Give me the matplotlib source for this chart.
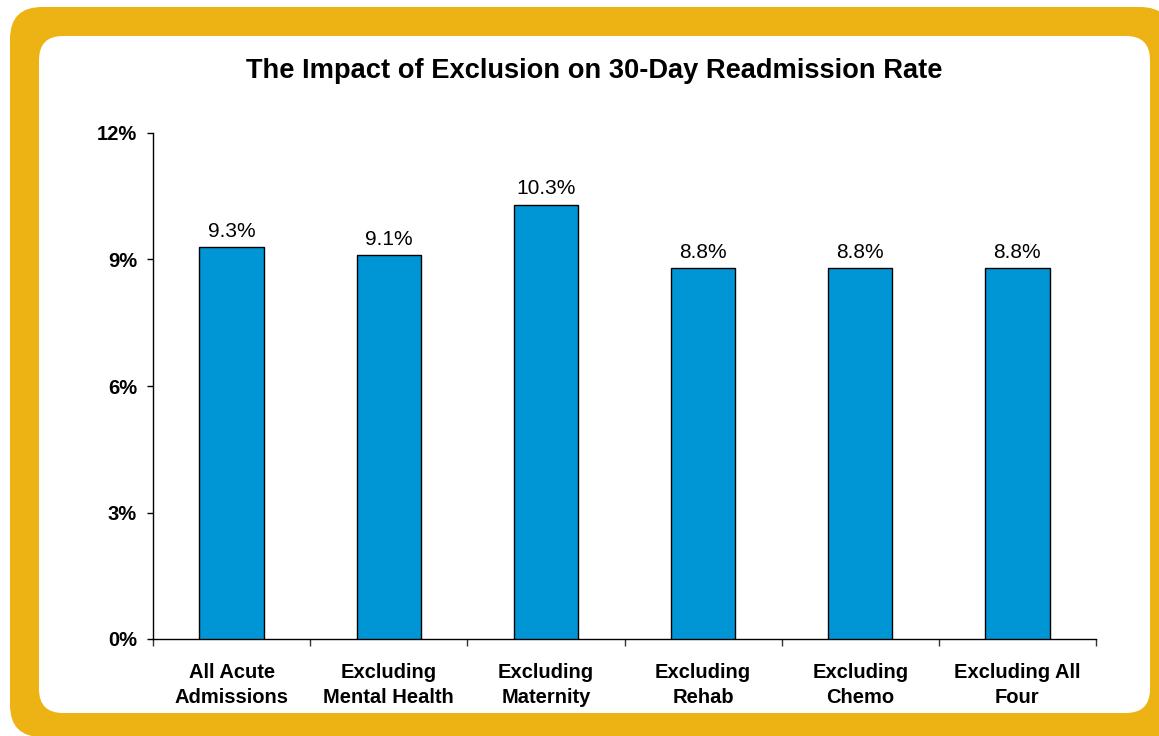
import matplotlib
matplotlib.use("Agg")
import matplotlib.pyplot as plt
from matplotlib.patches import FancyBboxPatch, Rectangle
from matplotlib.ticker import FuncFormatter

categories = ["All Acute\nAdmissions", "Excluding\nMental Health", "Excluding\nMaternity",
              "Excluding\nRehab", "Excluding\nChemo", "Excluding All\nFour"]
rates = [9.3, 9.1, 10.3, 8.8, 8.8, 8.8]
value_labels = ["9.3%", "9.1%", "10.3%", "8.8%", "8.8%", "8.8%"]
y_ticks = [0, 3, 6, 9, 12]

GOLD = "#EDB213"
BLUE = "#0096D6"
W, H = 1159, 736

plt.rcParams["font.family"] = ["Liberation Sans", "DejaVu Sans"]
fig = plt.figure(figsize=(W / 100, H / 100), dpi=100)
fig.patch.set_facecolor("white")


def px_box(x0, y0, x1, y1, radius, color, z, rounded=True):
    # pixel coordinates measured from the top-left corner
    kw = dict(transform=fig.dpi_scale_trans, facecolor=color, edgecolor="none", zorder=z)
    if rounded:
        p = FancyBboxPatch((x0 / 100, (H - y1) / 100), (x1 - x0) / 100, (y1 - y0) / 100,
                           boxstyle=f"round,pad=0,rounding_size={radius / 100}", **kw)
    else:
        p = Rectangle((x0 / 100, (H - y1) / 100), (x1 - x0) / 100, (y1 - y0) / 100, **kw)
    fig.patches.append(p)


# golden frame and white panel
px_box(10, 7, 1172, 737, 32, GOLD, -12)
px_box(600, 650, 1159, 736, 0, GOLD, -12, rounded=False)
px_box(39, 36, 1150, 713, 24, "white", -11)

ax = fig.add_axes([153 / W, 1 - 639 / H, (1096 - 153) / W, (639 - 133) / H])
ax.set_facecolor("none")

x = list(range(len(categories)))
bars = ax.bar(x, rates, width=0.41, color=BLUE, edgecolor="black", linewidth=1.0, zorder=3)
for b, lab in zip(bars, value_labels):
    ax.annotate(lab, (b.get_x() + b.get_width() / 2, b.get_height()),
                xytext=(0, 4.5), textcoords="offset points", ha="center", va="bottom",
                fontsize=15, color="black")

ax.set_xlim(-0.5, len(categories) - 0.5)
ax.set_ylim(0, 12)
ax.set_yticks(y_ticks)
ax.yaxis.set_major_formatter(FuncFormatter(lambda v, p: f"{v:.0f}%"))
ax.set_xticks([i - 0.5 for i in range(len(categories) + 1)])
ax.set_xticklabels([])
ax.set_xticks(x, minor=True)
ax.set_xticklabels(categories, minor=True, fontsize=14.5, fontweight="bold", linespacing=1.4)
ax.tick_params(axis="x", which="minor", length=0, pad=17)
ax.tick_params(axis="x", which="major", length=5, direction="out", width=1, color="#333333")
ax.tick_params(axis="y", length=4.5, direction="out", width=1, labelsize=14.5, pad=7)
for lab in ax.get_yticklabels():
    lab.set_fontweight("bold")

for s in ["top", "right"]:
    ax.spines[s].set_visible(False)
for s in ["left", "bottom"]:
    ax.spines[s].set_linewidth(1.0)

fig.text(594 / W, 1 - 71 / H, "The Impact of Exclusion on 30-Day Readmission Rate",
         ha="center", va="center", fontsize=19.6, fontweight="bold")

fig.savefig("out.png", dpi=100)
